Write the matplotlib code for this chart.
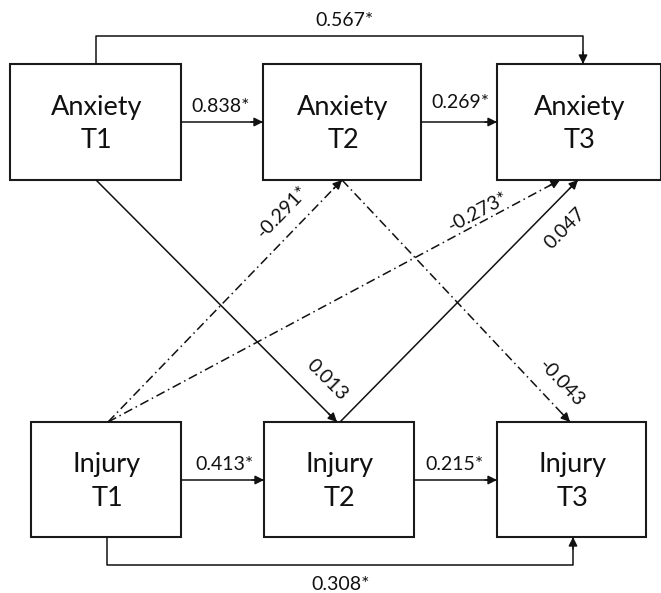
import matplotlib
matplotlib.use("Agg")
import matplotlib.pyplot as plt
from matplotlib.patches import Rectangle

# ---- data ----
node_names = ["Anxiety\nT1", "Anxiety\nT2", "Anxiety\nT3", "Injury\nT1", "Injury\nT2", "Injury\nT3"]
# paths: (from, to, coefficient label, style)
path_from = [0, 1, 3, 4, 0, 3, 0, 4, 3, 3, 1]
path_to   = [1, 2, 4, 5, 2, 5, 4, 2, 1, 2, 5]
path_labels = ["0.838*", "0.269*", "0.413*", "0.215*", "0.567*", "0.308*",
               "0.013", "0.047", "-0.291*", "-0.273*", "-0.043"]
path_solid = [True, True, True, True, True, True, True, True, False, False, False]

# ---- layout (pixels, y downward) ----
W, H = 661, 593
boxes = [(10, 64, 181, 180), (263, 64, 421, 180), (497, 64, 661, 180),
         (31, 422, 181, 537), (264, 422, 414, 537), (497, 422, 646, 537)]

fig = plt.figure(figsize=(W / 100, H / 100), dpi=100)
ax = fig.add_axes([0, 0, 1, 1])
ax.set_xlim(0, W)
ax.set_ylim(H, 0)
ax.axis("off")

FONT = ["Lato", "DejaVu Sans"]
for (x0, y0, x1, y1), name in zip(boxes, node_names):
    ax.add_patch(Rectangle((x0, y0), x1 - x0, y1 - y0, fill=False, lw=1.5, ec="#1a1a1a"))
    ax.text((x0 + x1) / 2 + 1, (y0 + y1) / 2 + 2, name, ha="center", va="center",
            fontsize=19.5, family=FONT, linespacing=1.45, color="#111111")

LW = 1.1
DASH = (0, (6, 2.5, 1, 2.5))

def arrow(pts, solid=True):
    xs = [p[0] for p in pts]
    ys = [p[1] for p in pts]
    ax.plot(xs, ys, color="#111111", lw=LW,
            linestyle="-" if solid else DASH, solid_capstyle="butt")
    (xa, ya), (xb, yb) = pts[-2], pts[-1]
    d = ((xb - xa) ** 2 + (yb - ya) ** 2) ** 0.5
    ux, uy = (xb - xa) / d, (yb - ya) / d
    ax.annotate("", xy=(xb, yb), xytext=(xb - ux * 12, yb - uy * 12),
                arrowprops=dict(arrowstyle="-|>", color="#111111", lw=LW,
                                mutation_scale=13, shrinkA=0, shrinkB=0))

def lbl(x, y, s, rot=0):
    ax.text(x, y, s, ha="center", va="center", fontsize=14, family=FONT,
            rotation=rot, rotation_mode="anchor", color="#111111")

# horizontal paths
arrow([(181, 122), (263, 122)]); lbl(221, 106, path_labels[0])
arrow([(421, 122), (497, 122)]); lbl(460, 103, path_labels[1])
arrow([(181, 480), (264, 480)]); lbl(225, 464, path_labels[2])
arrow([(414, 480), (497, 480)]); lbl(455, 464, path_labels[3])
# bypass paths
arrow([(96, 64), (96, 36), (583, 36), (583, 64)]); lbl(345, 21, path_labels[4])
arrow([(107, 537), (107, 565), (573, 565), (573, 537)]); lbl(341, 584, path_labels[5])
# cross-lagged solid
arrow([(96, 180), (337, 422)]); lbl(327, 380, path_labels[6], -45)
arrow([(340, 422), (578, 180)]); lbl(565, 228, path_labels[7], 45.5)
# cross-lagged dash-dot
arrow([(108, 422), (342, 180)], solid=False); lbl(283, 212, path_labels[8], 46)
arrow([(108, 422), (560, 180)], solid=False); lbl(478, 212, path_labels[9], 28)
arrow([(342, 180), (570, 422)], solid=False); lbl(561, 383, path_labels[10], -46.7)

fig.savefig("out.png", dpi=100)
